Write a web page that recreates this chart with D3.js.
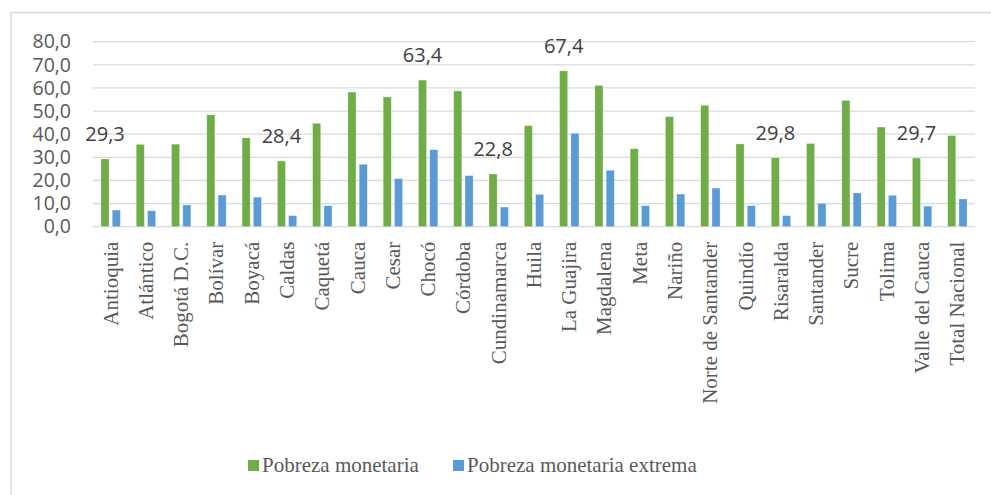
<!DOCTYPE html>
<html>
<head>
<meta charset="utf-8">
<script src="https://cdn.jsdelivr.net/npm/d3@7"></script>
<style>
  body { margin: 0; background: #fff; }
</style>
</head>
<body>
<script>
var regions = ["Antioquia","Atlántico","Bogotá D.C.","Bolívar","Boyacá","Caldas","Caquetá","Cauca","Cesar","Chocó","Córdoba","Cundinamarca","Huila","La Guajira","Magdalena","Meta","Nariño","Norte de Santander","Quindío","Risaralda","Santander","Sucre","Tolima","Valle del Cauca","Total Nacional"];

var pobreza = [29.3,35.6,35.7,48.4,38.4,28.4,44.7,58.2,56.1,63.4,58.7,22.8,43.7,67.4,61.1,33.7,47.6,52.5,35.8,29.8,36.0,54.6,43.1,29.7,39.4];
var extrema = [7.2,6.9,9.4,13.7,12.8,4.8,9.1,27.0,20.8,33.3,22.1,8.5,14.0,40.4,24.4,9.1,14.1,16.7,9.1,4.8,10.1,14.6,13.6,8.9,12.0];

// only some bars carry a value label in the original
var labeled = ["Antioquia","Caldas","Chocó","Cundinamarca","La Guajira","Risaralda","Valle del Cauca"];

var yTicks = [0,10,20,30,40,50,60,70,80];
var seriesNames = ["Pobreza monetaria","Pobreza monetaria extrema"];
var colors = ["#70AD47","#5B9BD5"];

var width = 991, height = 495;
var margin = {left:93, right:16, top:41.7, bottom:268.3};

var fmt = d3.formatLocale({decimal:",", thousands:".", grouping:[3], currency:["$",""]}).format(".1f");

var svg = d3.select("body").append("svg").attr("width",width).attr("height",height);

// outer frame (runs off the right and bottom edges)
svg.append("rect").attr("x",11).attr("y",12.5).attr("width",1000).attr("height",500)
  .attr("fill","none").attr("stroke","#D9D9D9").attr("stroke-width",1.5);

var x0 = d3.scaleBand().domain(regions).range([margin.left,width-margin.right]).paddingInner(0.45).paddingOuter(0.225);
var x1 = d3.scaleBand().domain([0,1]).range([0,x0.bandwidth()]).paddingInner(0.28);
var y = d3.scaleLinear().domain([0,80]).range([height-margin.bottom,margin.top]);

var grid = svg.append("g");
grid.selectAll("line").data(yTicks).join("line")
  .attr("x1",margin.left).attr("x2",width-margin.right)
  .attr("y1",d => y(d)).attr("y2",d => y(d))
  .attr("stroke","#D9D9D9").attr("stroke-width",1.3);

var yAxis = d3.axisLeft(y).tickValues(yTicks).tickFormat(fmt).tickSize(0).tickPadding(22);
svg.append("g").attr("transform","translate("+margin.left+",0)").call(yAxis)
  .call(g => g.select(".domain").remove())
  .selectAll("text").attr("font-family","'Open Sans', sans-serif").attr("font-size",19.5).attr("fill","#595959");

var groups = svg.append("g").selectAll("g").data(regions).join("g")
  .attr("transform",d => "translate("+x0(d)+",0)");

groups.append("rect")
  .attr("x",x1(0)).attr("width",x1.bandwidth())
  .attr("y",(d,i) => y(pobreza[i])).attr("height",(d,i) => y(0)-y(pobreza[i]))
  .attr("fill",colors[0]).attr("stroke","#fff").attr("stroke-opacity",0.5).attr("stroke-width",0.6);

groups.append("rect")
  .attr("x",x1(1)).attr("width",x1.bandwidth())
  .attr("y",(d,i) => y(extrema[i])).attr("height",(d,i) => y(0)-y(extrema[i]))
  .attr("fill",colors[1]).attr("stroke","#fff").attr("stroke-opacity",0.5).attr("stroke-width",0.6);

groups.filter(d => labeled.indexOf(d) >= 0).append("text")
  .attr("x",x1(0)+x1.bandwidth()/2)
  .attr("y",d => y(pobreza[regions.indexOf(d)])-18)
  .attr("text-anchor","middle")
  .attr("font-family","'Open Sans', sans-serif").attr("font-size",20).attr("fill","#404040")
  .text(d => fmt(pobreza[regions.indexOf(d)]));

// category labels, rotated
var xAxis = d3.axisBottom(x0).tickSize(0).tickPadding(0);
svg.append("g").attr("transform","translate(0,"+y(0)+")").call(xAxis)
  .call(g => g.select(".domain").remove())
  .selectAll("text")
  .attr("transform","translate(0,15) rotate(-90)")
  .attr("x",0).attr("y",0).attr("dy","0.33em")
  .attr("text-anchor","end")
  .attr("font-family","'Liberation Serif', 'Times New Roman', serif").attr("font-size",21).attr("fill","#595959");

// legend
var legendX = [248,453];
var legend = svg.append("g").selectAll("g").data(seriesNames).join("g")
  .attr("transform",(d,i) => "translate("+legendX[i]+",460)");
legend.append("rect").attr("width",11).attr("height",11).attr("fill",(d,i) => colors[i]);
legend.append("text").attr("x",14).attr("y",12)
  .attr("font-family","'Liberation Serif', 'Times New Roman', serif").attr("font-size",21).attr("fill","#595959")
  .text(d => d);
</script>
</body>
</html>
